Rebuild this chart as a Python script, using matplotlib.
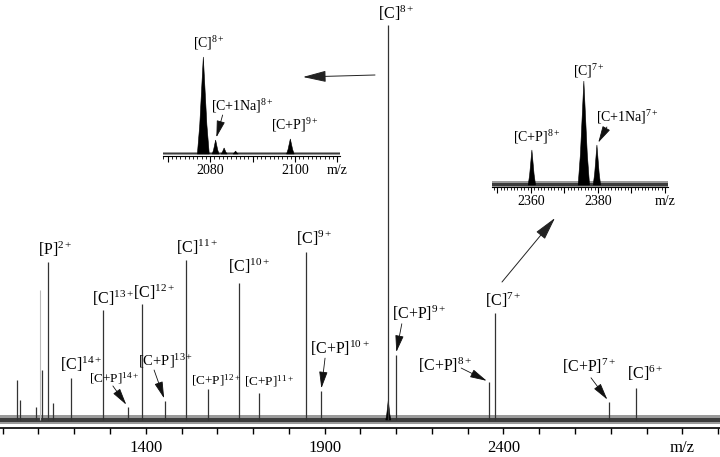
import matplotlib
matplotlib.use('Agg')
import matplotlib.pyplot as plt
from matplotlib.ticker import MultipleLocator
import numpy as np

plt.rcParams['font.family'] = ['Liberation Serif', 'DejaVu Serif']
plt.rcParams['mathtext.fontset'] = 'custom'
plt.rcParams['mathtext.rm'] = 'Liberation Serif'
plt.rcParams['mathtext.it'] = 'Liberation Serif:italic'
plt.rcParams['mathtext.bf'] = 'Liberation Serif:bold'

# ---- main spectrum: labelled peaks (m/z, relative intensity) ----
peak_ions = ['[P]', '[C]', '[C+P]', '[C]', '[C]', '[C+P]', '[C]', '[C+P]', '[C]',
             '[C+P]', '[C]', '[C+P]', '[C]', '[C+P]', '[C+P]', '[C]', '[C+P]', '[C]']
peak_charges = ['2+', '14+', '14+', '13+', '12+', '13+', '11+', '12+', '10+',
                '11+', '9+', '10+', '8+', '9+', '8+', '7+', '7+', '6+']
peak_mz = [1127, 1190, 1350, 1280, 1389, 1454, 1512, 1574, 1662,
           1717, 1847, 1890, 2078, 2099, 2360, 2376, 2695, 2771]
peak_int = [40, 10.6, 3.3, 27.8, 29.4, 4.8, 40.5, 7.8, 34.7,
            6.8, 42.5, 7.3, 100, 16.5, 9.6, 27.1, 4.6, 8.1]

# unlabelled small peaks at the low m/z end
other_mz = [1040, 1048, 1093, 1110, 1140]
other_int = [10.1, 5.0, 3.3, 12.7, 4.3]
faint_mz = [1104]
faint_int = [33]

main_ticks = np.arange(1000, 3001, 100)
main_tick_text = {1400: '1400', 1900: '1900', 2400: '2400', 2900: 'm/z'}

# ---- inset 1 (around [C]8+) ----
in1_mz = [2078.4, 2081.3, 2083.3, 2086.0, 2098.9]
in1_int = [100, 14.4, 6.2, 3.0, 15.5]
in1_width = [1.4, 0.8, 0.7, 0.6, 0.9]
in1_ions = ['[C]', '[C+1Na]', '[C+P]']
in1_charges = ['8+', '8+', '9+']
in1_label_idx = [0, 1, 4]
in1_ticks = [2070, 2080, 2090, 2100, 2110]
in1_tick_text = ['', '2080', '', '2100', 'm/z']

# ---- inset 2 (around [C]7+) ----
in2_mz = [2360.3, 2375.8, 2379.7]
in2_int = [33.7, 100, 38.5]
in2_width = [1.1, 1.7, 1.1]
in2_ions = ['[C+P]', '[C]', '[C+1Na]']
in2_charges = ['8+', '7+', '7+']
in2_ticks = [2350, 2360, 2370, 2380, 2390, 2400]
in2_tick_text = ['', '2360', '', '2380', '', 'm/z']

# label layout: text offset (px) from peak top, font size, arrow start offset
main_layout = {
    '[P]2+': (-10, 3, 11.5, None),
    '[C]14+': (-11, 4, 11.5, None),
    '[C+P]14+': (-39, 21, 9.5, (-15, 21)),
    '[C]13+': (-11, 2, 11.5, None),
    '[C]12+': (-9, 2, 11.5, None),
    '[C+P]13+': (-27, 31, 10.5, (-11, 31)),
    '[C]11+': (-10, 3, 11.5, None),
    '[C+P]12+': (-17, 1, 9.5, None),
    '[C]10+': (-11, 7, 11.5, None),
    '[C+P]11+': (-15, 4, 9.5, None),
    '[C]9+': (-10, 4, 11.5, None),
    '[C+P]10+': (-11, 33, 11.5, (4, 33)),
    '[C]8+': (-10, 2, 11.5, None),
    '[C+P]9+': (-4, 32, 11.5, (6, 31)),
    '[C+P]8+': (-71, 7, 11.5, (-28, 14)),
    '[C]7+': (-10, 3, 11.5, None),
    '[C+P]7+': (-47, 26, 11.5, (-18, 24)),
    '[C]6+': (-9, 5, 11.5, None),
}
in1_layout = [(-10, 5, 10, None), (-5, 25, 10, (7, 25)), (-19, 5, 10, None)]
in2_layout = [(-19, 4, 10, None), (-11, 1, 10, None), (-1, 19, 10, (10, 18))]

line_col = '#333333'
arrow_props = dict(arrowstyle='-|>,head_length=0.8,head_width=0.2', color='#111111',
                   lw=0.6, shrinkA=0, shrinkB=2, mutation_scale=13)


def label(ax, ion, charge, mz, inten, lay):
    dx, dy, fs, arr = lay
    ax.annotate(ion + '$^{' + charge + '}$', xy=(mz, inten), xytext=(dx, dy),
                textcoords='offset pixels', ha='left', va='bottom', fontsize=fs)
    if arr is not None:
        ax.annotate('', xy=(mz, inten), xytext=arr, textcoords='offset pixels',
                    arrowprops=arrow_props)


def draw_peaks(ax, centers, heights, widths):
    for c, h, w in zip(centers, heights, widths):
        ax.fill([c - w, c - 0.6 * w, c, c + 0.6 * w, c + w],
                [0, 0.3 * h, h, 0.3 * h, 0], color='black', lw=0.4)


def noise_band(ax, lo_out, hi_out, lo_in, hi_in):
    x0, x1 = ax.get_xlim()
    ax.fill_between([x0, x1], lo_out, hi_out, color='#9a9a9a', lw=0)
    ax.fill_between([x0, x1], lo_in, hi_in, color='#3c3c3c', lw=0)


def style_axis(ax):
    for s in ['left', 'right', 'top']:
        ax.spines[s].set_visible(False)
    ax.set_yticks([])
    ax.patch.set_alpha(0)


fig = plt.figure(figsize=(7.2, 4.57), dpi=100)

# ---------------- main axes ----------------
ax = fig.add_axes([0, 29 / 457, 1, 428 / 457])
ax.set_xlim(992.5, 3005.3)
ax.set_ylim(-2.03, 106.3)
style_axis(ax)
ax.spines['bottom'].set_linewidth(1.2)
ax.set_xticks(main_ticks)
ax.set_xticklabels([main_tick_text.get(int(t), '') for t in main_ticks])
ax.tick_params(axis='x', direction='out', length=4, width=1, pad=5, labelsize=12)

noise_band(ax, -1.0, 1.3, -0.4, 0.6)
ax.vlines(faint_mz, 0, faint_int, color='#bbbbbb', lw=0.8)
ax.vlines(other_mz, 0, other_int, color=line_col, lw=0.9)
ax.vlines(peak_mz, 0, peak_int, color=line_col, lw=0.9)
draw_peaks(ax, [peak_mz[12]], [5], [7])

for ion, ch, mz, h in zip(peak_ions, peak_charges, peak_mz, peak_int):
    label(ax, ion, ch, mz, h, main_layout[ion + ch])

# arrows pointing to the insets
big_arrow = dict(arrowstyle='-|>,head_length=0.9,head_width=0.22', color='#222222',
                 lw=0.7, shrinkA=0, shrinkB=0, mutation_scale=16)
ax.annotate('', xy=(303, 380), xycoords='figure pixels', xytext=(375, 382),
            textcoords='figure pixels', arrowprops=big_arrow)
ax.annotate('', xy=(555, 239), xycoords='figure pixels', xytext=(502, 175),
            textcoords='figure pixels', arrowprops=big_arrow)

# ---------------- inset 1 ----------------
ax1 = fig.add_axes([163 / 720, (457 - 156) / 457, 177 / 720, 106 / 457])
ax1.set_xlim(2068.9, 2110.6)
ax1.set_ylim(-2.06, 107.2)
style_axis(ax1)
ax1.set_xticks(in1_ticks)
ax1.set_xticklabels(in1_tick_text)
ax1.xaxis.set_minor_locator(MultipleLocator(1))
ax1.tick_params(axis='x', which='major', length=4, width=0.8, pad=2, labelsize=10)
ax1.tick_params(axis='x', which='minor', length=2.5, width=0.6)
noise_band(ax1, -1.0, 2.5, -0.3, 1.2)
draw_peaks(ax1, in1_mz, in1_int, in1_width)
for k, i in enumerate(in1_label_idx):
    label(ax1, in1_ions[k], in1_charges[k], in1_mz[i], in1_int[i], in1_layout[k])

# ---------------- inset 2 ----------------
ax2 = fig.add_axes([492 / 720, (457 - 187) / 457, 176 / 720, 117 / 457])
ax2.set_xlim(2348.4, 2400.9)
ax2.set_ylim(-1.9, 110.6)
style_axis(ax2)
ax2.set_xticks(in2_ticks)
ax2.set_xticklabels(in2_tick_text)
ax2.xaxis.set_minor_locator(MultipleLocator(1))
ax2.tick_params(axis='x', which='major', length=4, width=0.8, pad=2, labelsize=10)
ax2.tick_params(axis='x', which='minor', length=2.5, width=0.6)
noise_band(ax2, -1.5, 4.0, -0.5, 2.0)
draw_peaks(ax2, in2_mz, in2_int, in2_width)
for k in range(len(in2_mz)):
    label(ax2, in2_ions[k], in2_charges[k], in2_mz[k], in2_int[k], in2_layout[k])

fig.savefig('out.png', dpi=100)
